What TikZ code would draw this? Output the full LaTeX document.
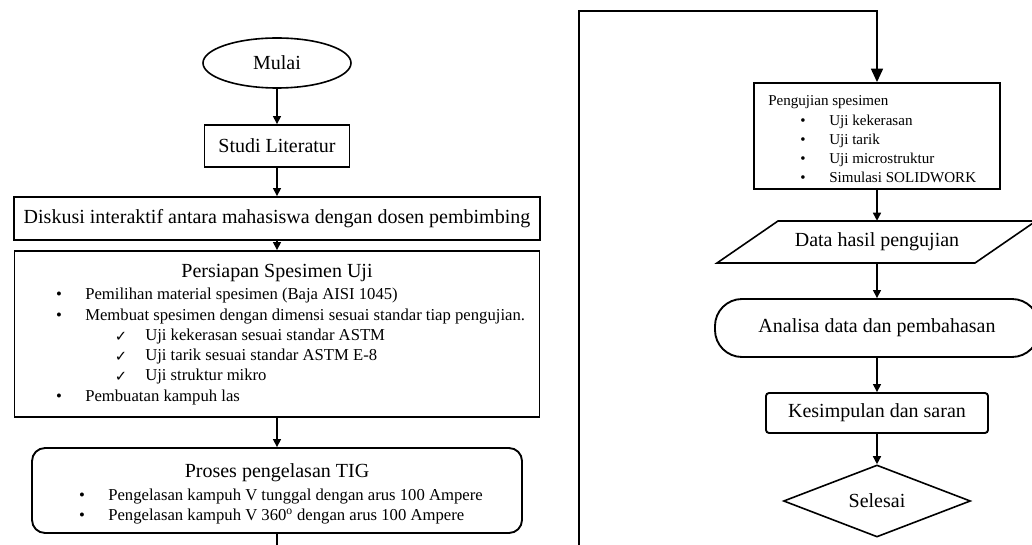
\documentclass[tikz,border=0pt]{standalone}
\usepackage{fontspec}
\setmainfont{Liberation Serif}
\newfontfamily\symfont{DejaVu Sans}
\usetikzlibrary{arrows.meta,shapes.geometric}
\tikzset{
	>={Triangle[length=6pt,width=6pt]},
	flowline/.style={line width=1.1pt},
	panel/.style={draw,line width=1.4pt,inner sep=0pt},
	item/.style={anchor=west,inner sep=0pt,text height=0.7em,text depth=0.2em},
}
\begin{document}
\begin{tikzpicture}[x=0.75pt,y=-0.75pt,font=\fontsize{15}{18}\selectfont]
		\useasboundingbox(0,0)rectangle(1032,545);
		\def\px#1{#1*0.75pt}

		% kolom kiri
		\node[panel,ellipse,line width=1.2pt,minimum width=\px{148},minimum height=\px{50}](mulai)at(277,63){Mulai};
		\node[panel,minimum width=\px{145},minimum height=\px{42}](studi)at(277,146){Studi Literatur};
		\node[panel,minimum width=\px{526},minimum height=\px{43}](diskusi)at(277,218.5){Diskusi interaktif antara mahasiswa dengan dosen pembimbing};
		\node[panel,minimum width=\px{525},minimum height=\px{166}](persiapan)at(277,334){};
		\node[panel,rounded corners=\px{13},minimum width=\px{490},minimum height=\px{85}](proses)at(277,490.5){};
		\coordinate(kiribawah)at(277,545);

		\node(persiapanjudul)at(277,273){Persiapan Spesimen Uji};
		\begin{scope}[font=\fontsize{12.5}{15}\selectfont]
			\foreach \y/\t[count=\i] in {296/Pemilihan material spesimen (Baja AISI 1045),
					317/Membuat spesimen dengan dimensi sesuai standar tiap pengujian.,
					398/Pembuatan kampuh las}{
				\node[item](pt\i)at(85,\y){\t};
				\node(pb\i)at(59,\y){\textbullet};
			}
			\foreach \y/\t[count=\i] in {337/Uji kekerasan sesuai standar ASTM,
					357/Uji tarik sesuai standar ASTM E-8,
					377/Uji struktur mikro}{
				\node[item](ct\i)at(145,\y){\t};
				\node(cb\i)at(121,\y){\symfont\fontsize{11}{12}\selectfont ✓};
			}
		\end{scope}

		\node(prosesjudul)at(277,473){Proses pengelasan TIG};
		\begin{scope}[font=\fontsize{12.5}{15}\selectfont]
			\foreach \y/\t[count=\i] in {497/Pengelasan kampuh V tunggal dengan arus 100 Ampere,
					517/Pengelasan kampuh V 360\textsuperscript{o} dengan arus 100 Ampere}{
				\node[item](qt\i)at(108,\y){\t};
				\node(qb\i)at(82,\y){\textbullet};
			}
		\end{scope}

		% kolom kanan
		\coordinate(kananbawah)at(579,545);
		\coordinate(kananatas)at(579,11);
		\node[panel,minimum width=\px{246},minimum height=\px{106}](uji)at(877,136){};
		\node[inner sep=0pt,minimum width=\px{197},minimum height=\px{42}](data)at(877,242){Data hasil pengujian};
		\node[panel,rounded corners=\px{27},minimum width=\px{324},minimum height=\px{58}](analisa)at(877,328){Analisa data dan pembahasan};
		\node[panel,rounded corners=\px{3},minimum width=\px{222},minimum height=\px{40}](kesimpulan)at(877,413){Kesimpulan dan saran};
		\node[panel,diamond,line width=1.2pt,minimum width=\px{187},minimum height=\px{72}](selesai)at(877,501){Selesai};
		\draw[line width=1.2pt](717,263)--(778,221)--(1036,221)--(975,263)--cycle;

		\begin{scope}[font=\fontsize{11.3}{13}\selectfont]
			\node[item](ujijudul)at(768,102){Pengujian spesimen};
			\foreach \y/\t[count=\i] in {122/Uji kekerasan,141/Uji tarik,160/Uji microstruktur,179/Simulasi SOLIDWORK}{
				\node[item](ut\i)at(829,\y){\t};
				\node(ub\i)at(803,\y){\textbullet};
			}
		\end{scope}

		\begin{scope}[->,flowline]
			\draw(mulai)--(studi);
			\draw(studi)--(diskusi);
			\draw(diskusi)--(persiapan);
			\draw(persiapan)--(proses);
			\draw[-](proses)--(kiribawah);
			\draw[>={Triangle[length=10pt,width=9pt]}](kananbawah)--(kananatas)-|(uji);
			\draw(uji)--(data);
			\draw(data)--(analisa);
			\draw(analisa)--(kesimpulan);
			\draw(kesimpulan)--(selesai);
		\end{scope}
	\end{tikzpicture}
\end{document}
